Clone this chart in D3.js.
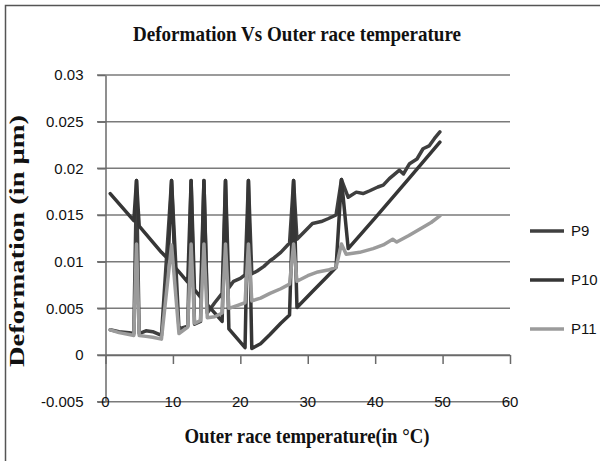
<!DOCTYPE html>
<html>
<head>
<meta charset="utf-8">
<script src="https://cdnjs.cloudflare.com/ajax/libs/d3/7.8.5/d3.min.js"></script>
<style>
  body { margin: 0; background: #fff; }
</style>
</head>
<body>
<svg id="chart" width="600" height="461"></svg>
<script>
// values
var xTicks = [0, 10, 20, 30, 40, 50, 60];
var yTicks = [-0.005, 0, 0.005, 0.01, 0.015, 0.02, 0.025, 0.03];
var yTickLabels = ["-0.005", "0", "0.005", "0.01", "0.015", "0.02", "0.025", "0.03"];
var seriesNames = ["P9", "P10", "P11"];

var tempP9 = [0.7, 2, 3.5, 4.2, 4.6, 5.0, 6, 7, 8.3, 9.8, 10.9, 12.2, 12.7, 13.2, 14.1, 14.6, 15.1, 16.2, 17.3, 17.8, 18.3, 19, 20, 20.7, 21.2, 21.7, 22.5, 23.5, 24.4, 25, 26, 27.3, 27.9, 28.4, 29.5, 30.7, 32, 33, 34.2, 35.0, 36.0, 37.2, 38.2, 39.2, 40.4, 41.2, 42.1, 43.6, 44.2, 45.1, 46.2, 47.1, 48.0, 48.8, 49.6];
var defP9 = [0.0027, 0.0025, 0.0024, 0.0023, 0.0187, 0.0023, 0.0026, 0.0025, 0.0021, 0.0187, 0.0028, 0.0031, 0.0187, 0.0033, 0.0036, 0.0187, 0.0045, 0.0056, 0.0066, 0.0187, 0.0072, 0.0079, 0.0082, 0.0086, 0.0187, 0.0087, 0.0090, 0.0095, 0.0101, 0.0104, 0.0110, 0.0120, 0.0187, 0.0124, 0.0132, 0.0141, 0.0143, 0.0146, 0.0150, 0.0188, 0.0169, 0.01745, 0.0173, 0.0176, 0.0180, 0.0182, 0.0189, 0.0198, 0.0194, 0.0205, 0.0210, 0.0221, 0.0224, 0.0232, 0.0239];

var tempP10 = [0.7, 4.2, 4.6, 5.0, 8.3, 9.3, 9.8, 10.3, 10.9, 12.2, 12.7, 13.2, 14.1, 14.6, 15.1, 17.3, 17.8, 18.3, 20.7, 21.2, 21.7, 23.0, 24.4, 26.0, 27.3, 27.9, 28.4, 30.7, 33.0, 34.2, 35.0, 36.0, 40.0, 45.0, 49.6];
var defP10 = [0.0173, 0.0144, 0.0187, 0.0138, 0.0110, 0.0103, 0.0187, 0.0094, 0.0089, 0.0078, 0.0187, 0.0070, 0.0062, 0.0187, 0.0054, 0.0036, 0.0187, 0.0028, 0.0008, 0.0187, 0.0007, 0.0012, 0.0022, 0.0034, 0.0043, 0.0187, 0.0051, 0.0068, 0.0085, 0.0094, 0.0188, 0.0114, 0.0147, 0.0189, 0.0228];

var tempP11 = [0.7, 2, 3.5, 4.2, 4.6, 5.0, 6, 7, 8.3, 9.8, 10.9, 12.2, 12.7, 13.2, 14.1, 14.6, 15.1, 16.2, 17.3, 17.8, 18.3, 19.5, 20.7, 21.2, 21.7, 23, 24.4, 26, 27.3, 27.9, 28.4, 30, 31.5, 33, 34.2, 35.0, 35.7, 37.7, 39.7, 41.2, 42.6, 43.2, 45.0, 47.1, 48.3, 49.6];
var defP11 = [0.0027, 0.0024, 0.0022, 0.0021, 0.0119, 0.0021, 0.0020, 0.0019, 0.0017, 0.0118, 0.0023, 0.0030, 0.0119, 0.0034, 0.0037, 0.0119, 0.0040, 0.0041, 0.0045, 0.0119, 0.0050, 0.0053, 0.0056, 0.0119, 0.0058, 0.0061, 0.0066, 0.0071, 0.0076, 0.0119, 0.0079, 0.0085, 0.0089, 0.0091, 0.0094, 0.0119, 0.0108, 0.0110, 0.0114, 0.0118, 0.0124, 0.0121, 0.0128, 0.0137, 0.0142, 0.0149];

var svg = d3.select("#chart");
var colors = ["#3f3f3f", "#363636", "#9b9b9b"];

var x = d3.scaleLinear().domain([0, 60]).range([105.5, 510]);
var y = d3.scaleLinear().domain([-0.005, 0.03]).range([401.7, 75]);

// frame
svg.append("path")
    .attr("d", "M5.5,461V5.5H600")
    .attr("fill", "none")
    .attr("stroke", "#555")
    .attr("stroke-width", 1.5);

// title
svg.append("text")
    .attr("x", 297)
    .attr("y", 41)
    .attr("text-anchor", "middle")
    .attr("font-family", "Liberation Serif")
    .attr("font-weight", "bold")
    .attr("font-size", 22)
    .attr("textLength", 328)
    .attr("lengthAdjust", "spacingAndGlyphs")
    .attr("fill", "#111")
    .text("Deformation Vs Outer race temperature");

// gridlines
svg.append("g")
    .selectAll("line")
    .data(yTicks)
    .enter().append("line")
    .attr("x1", 97)
    .attr("x2", x(60))
    .attr("y1", function (d) { return y(d); })
    .attr("y2", function (d) { return y(d); })
    .attr("stroke", "#7a7a7a")
    .attr("stroke-width", 1.5);

// Y axis
var yAxis = svg.append("g")
    .attr("transform", "translate(" + x(0) + ",0)")
    .call(d3.axisLeft(y).tickValues(yTicks).tickSize(8).tickSizeOuter(0).tickPadding(14)
        .tickFormat(function (d, i) { return yTickLabels[i]; }));
yAxis.select(".domain").attr("stroke", "#6a6a6a").attr("stroke-width", 1.5);
yAxis.selectAll(".tick line").attr("stroke", "#6a6a6a").attr("stroke-width", 1.5);
yAxis.selectAll(".tick text")
    .attr("font-family", "Liberation Sans")
    .attr("font-size", 15)
    .attr("fill", "#111");

// X axis at zero, labels at the bottom
var xAxis = svg.append("g")
    .attr("transform", "translate(0," + y(0) + ")")
    .call(d3.axisBottom(x).tickValues(xTicks).tickSize(9).tickSizeOuter(0).tickFormat(""));
xAxis.select(".domain").attr("stroke", "#6a6a6a").attr("stroke-width", 1.5);
xAxis.selectAll(".tick line").attr("stroke", "#6a6a6a").attr("stroke-width", 1.5);

svg.append("g")
    .selectAll("text")
    .data(xTicks)
    .enter().append("text")
    .attr("x", function (d) { return x(d); })
    .attr("y", y(-0.005))
    .attr("dy", "0.35em")
    .attr("text-anchor", "middle")
    .attr("font-family", "Liberation Sans")
    .attr("font-size", 15)
    .attr("fill", "#111")
    .text(function (d) { return d; });

// axis titles
svg.append("text")
    .attr("x", 307)
    .attr("y", 443)
    .attr("text-anchor", "middle")
    .attr("font-family", "Liberation Serif")
    .attr("font-weight", "bold")
    .attr("font-size", 21)
    .attr("textLength", 245)
    .attr("lengthAdjust", "spacingAndGlyphs")
    .attr("fill", "#111")
    .text("Outer race temperature(in °C)");

svg.append("text")
    .attr("transform", "translate(24,241) rotate(-90)")
    .attr("text-anchor", "middle")
    .attr("font-family", "Liberation Serif")
    .attr("font-weight", "bold")
    .attr("font-size", 20)
    .attr("textLength", 252)
    .attr("lengthAdjust", "spacingAndGlyphs")
    .attr("fill", "#111")
    .text("Deformation (in  μm)");

// lines
var series = [
    { name: seriesNames[0], t: tempP9, v: defP9 },
    { name: seriesNames[1], t: tempP10, v: defP10 },
    { name: seriesNames[2], t: tempP11, v: defP11 }
];

var line = d3.line()
    .x(function (d) { return x(d[0]); })
    .y(function (d) { return y(d[1]); });

svg.append("g")
    .selectAll("path")
    .data(series)
    .enter().append("path")
    .attr("d", function (s) { return line(s.t.map(function (t, i) { return [t, s.v[i]]; })); })
    .attr("fill", "none")
    .attr("stroke", function (s, i) { return colors[i]; })
    .attr("stroke-width", 3.5)
    .attr("stroke-linejoin", "round")
    .attr("stroke-linecap", "round");

// legend
var legend = svg.append("g")
    .selectAll("g")
    .data(seriesNames)
    .enter().append("g")
    .attr("transform", function (d, i) { return "translate(0," + (231 + i * 49) + ")"; });

legend.append("line")
    .attr("x1", 530)
    .attr("x2", 564)
    .attr("stroke", function (d, i) { return colors[i]; })
    .attr("stroke-width", 3.5);

legend.append("text")
    .attr("x", 571)
    .attr("dy", "0.35em")
    .attr("font-family", "Liberation Sans")
    .attr("font-size", 15)
    .attr("fill", "#111")
    .text(function (d) { return d; });
</script>
</body>
</html>
